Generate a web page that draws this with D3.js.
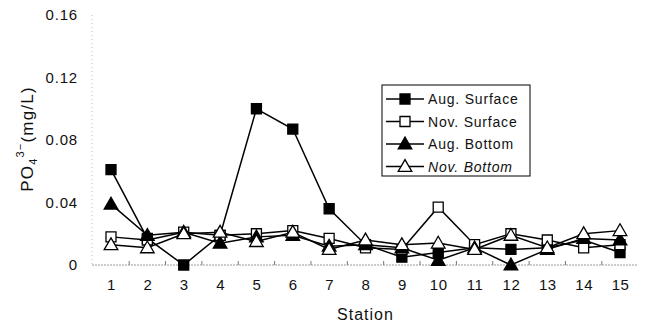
<!DOCTYPE html>
<html>
<head>
<meta charset="utf-8">
<script src="https://cdn.jsdelivr.net/npm/d3@7"></script>
<style>
  body { margin: 0; background: #fff; }
  svg { display: block; font-family: Arial, "Liberation Sans", sans-serif; }
</style>
</head>
<body>
<svg id="svg" width="646" height="329"></svg>
<script>
// data
const stations = [1, 2, 3, 4, 5, 6, 7, 8, 9, 10, 11, 12, 13, 14, 15];
const augSurface = [0.061, 0.017, 0.000, 0.019, 0.100, 0.087, 0.036, 0.013, 0.005, 0.008, 0.011, 0.010, 0.011, 0.016, 0.008];
const novSurface = [0.018, 0.016, 0.021, 0.019, 0.020, 0.022, 0.017, 0.011, 0.010, 0.037, 0.013, 0.020, 0.016, 0.011, 0.013];
const augBottom  = [0.039, 0.019, 0.021, 0.014, 0.018, 0.019, 0.012, 0.013, 0.011, 0.003, 0.011, 0.000, 0.010, 0.017, 0.016];
const novBottom  = [0.013, 0.011, 0.020, 0.021, 0.015, 0.021, 0.010, 0.016, 0.013, 0.014, 0.010, 0.019, 0.011, 0.020, 0.022];
const yTicks = [0, 0.04, 0.08, 0.12, 0.16];
const seriesNames = ["Aug. Surface", "Nov. Surface", "Aug. Bottom", "Nov. Bottom"];

const series = [
  {name: seriesNames[0], values: augSurface, shape: "square", fill: "#000"},
  {name: seriesNames[1], values: novSurface, shape: "square", fill: "#fff"},
  {name: seriesNames[2], values: augBottom,  shape: "triangle", fill: "#000"},
  {name: seriesNames[3], values: novBottom,  shape: "triangle", fill: "#fff"}
];

const svg = d3.select("#svg");
const pLeft = 92, pRight = 638, pTop = 15, pBottom = 265;

const x = d3.scalePoint().domain(stations).range([111, 620]);
const y = d3.scaleLinear().domain([0, 0.16]).range([pBottom, pTop]);

// faint dotted axes like the scan
svg.append("line")
   .attr("x1", pLeft).attr("x2", pRight)
   .attr("y1", pBottom).attr("y2", pBottom)
   .attr("stroke", "#999").attr("stroke-width", 1)
   .attr("stroke-dasharray", "2,1");
svg.append("line")
   .attr("x1", pLeft).attr("x2", pLeft)
   .attr("y1", pTop).attr("y2", pBottom)
   .attr("stroke", "#bbb").attr("stroke-width", 1)
   .attr("stroke-dasharray", "1,3");

// y axis labels
const yAxis = d3.axisLeft(y).tickValues(yTicks)
  .tickFormat(d => d === 0 ? "0" : d3.format(".2f")(d))
  .tickSize(0).tickPadding(14);
const gy = svg.append("g").attr("transform", `translate(${pLeft},0)`).call(yAxis);
gy.select(".domain").remove();
gy.selectAll("text").attr("font-size", 15).attr("fill", "#111")
  .attr("letter-spacing", 0.8)
  .attr("font-family", "Arial, 'Liberation Sans', sans-serif");

// x axis labels
const xAxis = d3.axisBottom(x).tickSize(0).tickPadding(14);
const gx = svg.append("g").attr("transform", `translate(0,${pBottom})`).call(xAxis);
gx.select(".domain").remove();
gx.selectAll("text").attr("font-size", 15).attr("fill", "#111")
  .attr("letter-spacing", 0.5)
  .attr("font-family", "Arial, 'Liberation Sans', sans-serif");

// small tick marks between stations
const step = x.step();
svg.selectAll(".mtick").data(stations.slice(0, -1))
   .enter().append("line")
   .attr("x1", d => x(d) + step / 2).attr("x2", d => x(d) + step / 2)
   .attr("y1", pBottom - 4).attr("y2", pBottom)
   .attr("stroke", "#777").attr("stroke-width", 1);

// axis titles
svg.append("text")
   .attr("x", x(8)).attr("y", 320)
   .attr("text-anchor", "middle").attr("font-size", 16).attr("fill", "#111")
   .attr("letter-spacing", 1)
   .text("Station");

const yl = svg.append("text")
   .attr("transform", "translate(33,139) rotate(-90)")
   .attr("text-anchor", "middle").attr("font-size", 17).attr("fill", "#111")
   .attr("letter-spacing", 1.2);
yl.append("tspan").text("PO");
yl.append("tspan").attr("font-size", 11).attr("dy", 4).text("4");
yl.append("tspan").attr("font-size", 11).attr("dy", -13).text("3\u2212");
yl.append("tspan").attr("dy", 9).text("(mg/L)");

const line = d3.line().x((d, i) => x(stations[i])).y(d => y(d));
const sym = {square: d3.symbolSquare, triangle: d3.symbolTriangle};

function drawMarker(g, s, cx, cy) {
  const size = s.shape === "square" ? 100 : 80;
  g.append("path")
   .attr("d", d3.symbol().type(sym[s.shape]).size(size)())
   .attr("transform", `translate(${cx},${s.shape === "triangle" ? cy + 1 : cy})`)
   .attr("fill", s.fill).attr("stroke", "#000").attr("stroke-width", 1.3);
}

series.forEach(s => {
  svg.append("path").datum(s.values)
     .attr("d", line).attr("fill", "none")
     .attr("stroke", "#000").attr("stroke-width", 1.5);
});
series.forEach(s => {
  const g = svg.append("g");
  s.values.forEach((v, i) => drawMarker(g, s, x(stations[i]), y(v)));
});

// legend
const lg = svg.append("g");
lg.append("rect").attr("x", 382).attr("y", 85).attr("width", 148).attr("height", 91)
  .attr("fill", "#fff").attr("stroke", "#000").attr("stroke-width", 1);
series.forEach((s, i) => {
  const ly = 99 + i * 22.5;
  lg.append("line").attr("x1", 386).attr("x2", 424).attr("y1", ly).attr("y2", ly)
    .attr("stroke", "#000").attr("stroke-width", 1.3);
  drawMarker(lg, s, 405, ly);
  lg.append("text").attr("x", 428).attr("y", ly + 5)
    .attr("font-size", 14).attr("fill", "#111")
    .attr("letter-spacing", 0.8)
    .attr("font-style", i === 3 ? "italic" : "normal")
    .text(s.name);
});
</script>
</body>
</html>
